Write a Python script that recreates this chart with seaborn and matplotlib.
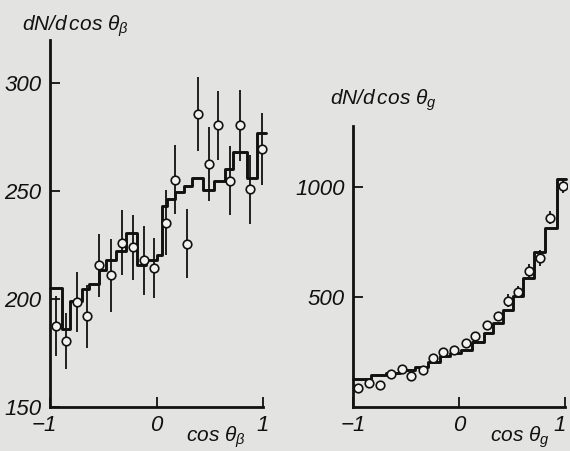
import numpy as np
import pandas as pd
import matplotlib
matplotlib.use("Agg")
import matplotlib.pyplot as plt
import matplotlib.transforms as mtransforms
import seaborn as sns

# Data
# left panel: cos(theta_beta)
beta_x = [-0.947, -0.85, -0.744, -0.656, -0.54, -0.43, -0.32, -0.22, -0.12, -0.02,
          0.09, 0.175, 0.29, 0.39, 0.49, 0.58, 0.69, 0.78, 0.88, 0.99]
beta_y = [187.6, 180.6, 198.8, 192, 215.6, 211, 226.2, 224, 218, 214.4,
          235.5, 255.3, 225.7, 285.8, 262.7, 280.6, 255, 280.6, 251, 269.6]
beta_err = [14, 13, 14, 14.5, 14.6, 17, 15, 15, 16, 14,
            15, 16, 16, 17, 17, 16, 16, 16.5, 16, 16.5]
beta_edges = [-1.0, -0.89, -0.81, -0.70, -0.63, -0.54, -0.47, -0.385, -0.29, -0.18,
              -0.10, 0.0, 0.05, 0.10, 0.17, 0.26, 0.335, 0.44, 0.54, 0.64,
              0.72, 0.845, 0.945, 1.03]
beta_levels = [205, 186, 199, 204.5, 207, 213.5, 218, 222.5, 230.5, 216,
               218, 220.5, 243, 246.5, 249.5, 252.5, 256, 250.5, 255, 260.5,
               268, 256, 277]
beta_yticks = [150, 200, 250, 300]

# right panel: cos(theta_g)
g_x = [-0.953, -0.849, -0.748, -0.647, -0.543, -0.458, -0.345, -0.25, -0.15, -0.046,
       0.06, 0.152, 0.26, 0.364, 0.465, 0.558, 0.662, 0.763, 0.857, 0.977]
g_y = [84, 108, 100, 150, 171, 141, 167, 220, 248, 258,
       290, 324, 372, 413, 483, 522, 619, 678, 862, 1008]
g_err = [10, 10, 10, 11, 11, 11, 12, 13, 14, 14,
         15, 16, 18, 20, 30, 28, 30, 38, 30, 34]
g_edges = [-1.0, -0.83, -0.69, -0.56, -0.42, -0.29, -0.18, -0.09, 0.02, 0.12,
           0.23, 0.32, 0.415, 0.51, 0.605, 0.705, 0.81, 0.92, 1.01]
g_levels = [125, 145, 155, 168, 182, 205, 231, 245, 260, 296,
            334, 383, 441, 504, 585, 707, 813, 1036]
g_yticks = [500, 1000]

x_ticks = [-1, 0, 1]
x_ticklabels = ["\u22121", "0", "1"]

PAPER = "#e3e3e1"
INK = "#111111"

sns.set_theme(style="ticks")
plt.rcParams["font.family"] = ["Liberation Sans Narrow", "Liberation Sans", "DejaVu Sans"]
plt.rcParams["mathtext.fontset"] = "custom"
plt.rcParams["mathtext.it"] = "Liberation Sans:italic"
plt.rcParams["mathtext.rm"] = "Liberation Sans"


def draw_panel(ax, x, y, err, edges, levels, yticks):
    hist = pd.DataFrame({"x": edges, "y": levels + [levels[-1]]})
    sns.lineplot(data=hist, x="x", y="y", ax=ax, drawstyle="steps-post",
                 color=INK, lw=2.1, estimator=None, clip_on=False)
    ax.errorbar(x, y, yerr=err, fmt="none", ecolor=INK, elinewidth=1.3,
                capsize=0, zorder=3)
    sns.scatterplot(x=x, y=y, ax=ax, s=38, marker="o", facecolor="#f2f2f0",
                    edgecolor=INK, linewidth=1.2, zorder=4)
    for s in ["top", "right"]:
        ax.spines[s].set_visible(False)
    for s in ["left", "bottom"]:
        ax.spines[s].set_linewidth(2.0)
        ax.spines[s].set_color(INK)
    ax.spines["bottom"].set_bounds(-1, 1)
    ax.set_facecolor(PAPER)
    ax.set_xlabel("")
    ax.set_ylabel("")
    ax.tick_params(axis="both", direction="in", length=7, width=1.3,
                   colors=INK, pad=6)
    ax.set_xticks(x_ticks)
    ax.set_xticklabels(x_ticklabels, fontstyle="italic", fontsize=16)
    ax.set_yticks(yticks)
    ax.set_yticklabels([str(t) for t in yticks], fontstyle="italic", fontsize=16)


fig = plt.figure(figsize=(5.7, 4.51), dpi=100, facecolor=PAPER)

ax1 = fig.add_axes([50 / 570, 44 / 451, 219.4 / 570, 366.7 / 451])
ax1.set_xlim(-1, 1.06)
ax1.set_ylim(150, 320)
draw_panel(ax1, beta_x, beta_y, beta_err, beta_edges, beta_levels, beta_yticks)
ax1.set_xlim(-1, 1.06)
ax1.set_ylim(150, 320)

ax2 = fig.add_axes([353.3 / 570, 44.3 / 451, 213.9 / 570, 280.8 / 451])
draw_panel(ax2, g_x, g_y, g_err, g_edges, g_levels, g_yticks)
ax2.set_xlim(-1, 1.02)
ax2.set_ylim(0, 1280)

# nudge the outer "1" label so it stays inside the figure
last = ax2.get_xticklabels()[-1]
last.set_transform(last.get_transform() + mtransforms.ScaledTranslation(-5 / 100, 0, fig.dpi_scale_trans))
first = ax1.get_xticklabels()[0]
first.set_transform(first.get_transform() + mtransforms.ScaledTranslation(-6 / 100, 0, fig.dpi_scale_trans))

lab_kw = dict(fontsize=15, style="italic", color=INK)
fig.text(22 / 570, 1 - 26 / 451, r"dN/d$\,$cos $\theta_\beta$", ha="left", va="center", **lab_kw)
fig.text(330 / 570, 1 - 100 / 451, r"dN/d$\,$cos $\theta_g$", ha="left", va="center", **lab_kw)
fig.text(186 / 570, 1 - 437 / 451, r"cos $\theta_\beta$", ha="left", va="center", **lab_kw)
fig.text(490 / 570, 1 - 437 / 451, r"cos $\theta_g$", ha="left", va="center", **lab_kw)

fig.savefig("out.png", dpi=100, facecolor=PAPER)
